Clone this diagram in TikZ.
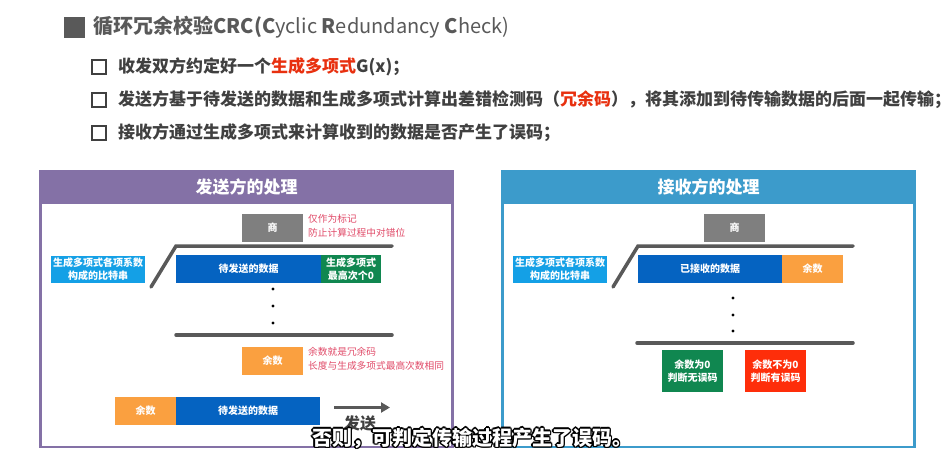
\documentclass[tikz,border=0pt]{standalone}
\usepackage{fontspec}
\setmainfont{Noto Sans CJK SC}
\usetikzlibrary{arrows.meta,calc}
\definecolor{purp}{RGB}{132,113,166}
\definecolor{hblue}{RGB}{60,155,203}
\definecolor{qgray}{RGB}{127,127,127}
\definecolor{lblue}{RGB}{20,160,230}
\definecolor{dblue}{RGB}{5,99,193}
\definecolor{ggreen}{RGB}{16,135,80}
\definecolor{orng}{RGB}{250,160,64}
\definecolor{rred}{RGB}{254,46,10}
\definecolor{pink}{RGB}{225,75,105}
\definecolor{lgray}{RGB}{89,89,89}
\definecolor{txtgray}{RGB}{64,64,64}
\definecolor{hred}{RGB}{232,48,15}
\newcommand{\subtxt}{否则，可判定传输过程产生了误码。}
\newcommand{\outl}[2]{\makebox[0pt][l]{\raisebox{#2}{\hspace*{#1}\textcolor{black}{\subtxt}}}}
\tikzset{
  panel/.style={draw=#1, line width=2.5pt, minimum width=412pt, minimum height=276pt, inner sep=0pt},
  phead/.style={fill=#1, minimum width=412pt, minimum height=34pt, inner sep=0pt, anchor=north, text=white, font=\fontsize{17}{20}\selectfont\bfseries},
  cbox/.style={fill=#1, minimum height=28pt, inner sep=0pt, text=white, align=center, font=\fontsize{10}{13}\selectfont\bfseries},
  note/.style={anchor=west, inner sep=0pt, text=pink, align=left, font=\fontsize{9.7}{14}\selectfont},
  bracket/.style={draw=lgray, line width=3.5pt, line cap=round},
  dotp/.style={circle, fill=black, inner sep=0pt, minimum size=3.2pt},
  chk/.style={draw=txtgray, line width=1.6pt, minimum size=14pt, inner sep=0pt},
  bullet/.style={anchor=west, inner sep=0pt, text=txtgray, font=\fontsize{17}{20}\selectfont\bfseries},
  subt/.style={inner sep=0pt, font=\fontsize{20}{24}\selectfont\bfseries}
}
\begin{document}
\begin{tikzpicture}[x=1pt,y=-1pt]
\useasboundingbox (0,0) rectangle (949,454);
\fill[white] (0,0) rectangle (949,454);
% title
\node[fill=lgray, minimum size=21pt, inner sep=0pt] (tsq) at (74,27.5) {};
\node[anchor=west, inner sep=0pt, text=lgray, font=\fontsize{20}{24}\selectfont] (title) at (93,27.5)
  {\textbf{循环冗余校验CRC(C}yclic \textbf{R}edundancy \textbf{C}heck)};
% bullets
\node[chk] (c1) at (99,67) {};
\node[bullet] (b1) at (118,67) {收发双方约定好一个\textcolor{hred}{生成多项式}G(x)；};
\node[chk] (c2) at (99,100) {};
\node[bullet] (b2) at (118,100) {发送方基于待发送的数据和生成多项式计算出差错检测码（\textcolor{hred}{冗余码}），将其添加到待传输数据的后面一起传输；};
\node[chk] (c3) at (99,133) {};
\node[bullet] (b3) at (118,133) {接收方通过生成多项式来计算收到的数据是否产生了误码；};
% left panel
\node[panel=purp] (lp) at (246.5,309) {};
\node[phead=purp] (lph) at (lp.north) {发送方的处理};
\node[cbox=qgray, minimum width=61pt] (q1) at (272.5,228) {商};
\node[note] (n1) at (308,226) {仅作为标记\\防止计算过程中对错位};
\coordinate (l1a) at (151,287);
\coordinate (l1b) at (176,246);
\coordinate (l1c) at (392,246);
\draw[bracket] (l1a) -- (l1b) -- (l1c);
\node[cbox=lblue, minimum width=94pt, minimum height=27pt] (g1) at (98,269.5) {生成多项式各项系数\\构成的比特串};
\node[cbox=dblue, minimum width=145pt] (d1) at (248.5,269) {待发送的数据};
\node[cbox=ggreen, minimum width=60pt] (z1) at (351,269) {生成多项式\\最高次个0};
\node[dotp] (p1) at (273,289) {};
\node[dotp] (p2) at (273,306) {};
\node[dotp] (p3) at (273,323) {};
\coordinate (l2a) at (176,335);
\coordinate (l2b) at (392,335);
\draw[bracket] (l2a) -- (l2b);
\node[cbox=orng, minimum width=61pt] (r1) at (272.5,361) {余数};
\node[note] (n2) at (308,359) {余数就是冗余码\\长度与生成多项式最高次数相同};
\node[cbox=orng, minimum width=61pt] (r2) at (145.5,411) {余数};
\node[cbox=dblue, minimum width=144pt] (d2) at (248,411) {待发送的数据};
\coordinate (a1) at (334,407.5);
\coordinate (a2) at (390,407.5);
\draw[draw=lgray, line width=3pt, -{Triangle[length=9pt,width=10pt]}] (a1) -- (a2);
\node[inner sep=0pt, text=txtgray, font=\fontsize{16}{18}\selectfont\bfseries] (send) at (360,423) {发送};
% right panel
\node[panel=hblue] (rp) at (708.5,309) {};
\node[phead=hblue] (rph) at (rp.north) {接收方的处理};
\node[cbox=qgray, minimum width=61pt] (q2) at (734.5,228) {商};
\coordinate (l3a) at (613,287);
\coordinate (l3b) at (638,246);
\coordinate (l3c) at (853,246);
\draw[bracket] (l3a) -- (l3b) -- (l3c);
\node[cbox=lblue, minimum width=94pt, minimum height=27pt] (g2) at (560,269.5) {生成多项式各项系数\\构成的比特串};
\node[cbox=dblue, minimum width=144pt] (d3) at (710,269) {已接收的数据};
\node[cbox=orng, minimum width=61pt] (r3) at (812.5,269) {余数};
\node[dotp] (p4) at (733,298) {};
\node[dotp] (p5) at (733,315) {};
\node[dotp] (p6) at (733,331) {};
\coordinate (l4a) at (637,343);
\coordinate (l4b) at (853,343);
\draw[bracket] (l4a) -- (l4b);
\node[cbox=ggreen, minimum width=61pt, minimum height=42pt] (ok) at (692.5,371) {余数为0\\判断无误码};
\node[cbox=rred, minimum width=61pt, minimum height=42pt] (er) at (775.5,371) {余数不为0\\判断有误码};
% subtitle overlay (outlined caption)
\node[subt, text=white] (sub) at (472,438)
  {\outl{1.4pt}{0pt}\outl{-1.4pt}{0pt}\outl{0pt}{1.4pt}\outl{0pt}{-1.4pt}\outl{1pt}{1pt}\outl{-1pt}{1pt}\outl{1pt}{-1pt}\outl{-1pt}{-1pt}\subtxt};
\end{tikzpicture}
\end{document}
